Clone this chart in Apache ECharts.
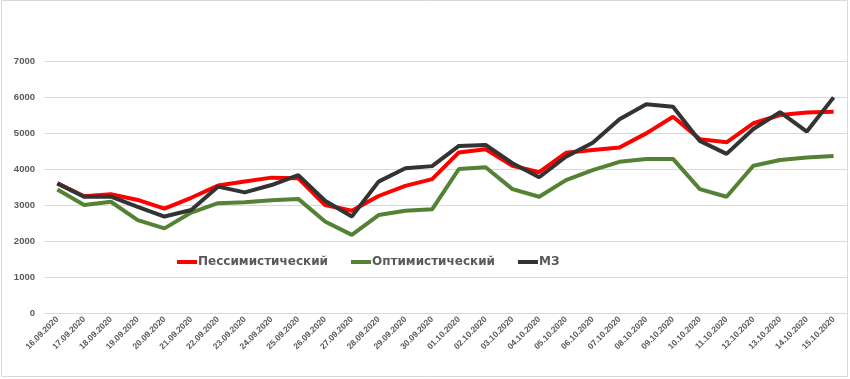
<!DOCTYPE html>
<html>
<head>
<meta charset="utf-8">
<script src="https://cdn.jsdelivr.net/npm/echarts@6/dist/echarts.min.js"></script>
<style>
html,body{margin:0;padding:0;background:#fff;}
#c{width:850px;height:379px;}
</style>
</head>
<body>
<div id="c"></div>
<script>
const categories = ["16.09.2020","17.09.2020","18.09.2020","19.09.2020","20.09.2020","21.09.2020","22.09.2020","23.09.2020","24.09.2020","25.09.2020","26.09.2020","27.09.2020","28.09.2020","29.09.2020","30.09.2020","01.10.2020","02.10.2020","03.10.2020","04.10.2020","05.10.2020","06.10.2020","07.10.2020","08.10.2020","09.10.2020","10.10.2020","11.10.2020","12.10.2020","13.10.2020","14.10.2020","15.10.2020"];
const pessimistic = [3600,3240,3300,3140,2900,3200,3540,3650,3760,3740,3000,2840,3250,3530,3720,4460,4550,4090,3910,4450,4530,4600,4990,5450,4830,4740,5270,5500,5570,5590];
const optimistic = [3430,3000,3090,2580,2350,2790,3050,3075,3130,3170,2540,2170,2720,2840,2880,4000,4050,3440,3230,3690,3970,4200,4280,4280,3440,3230,4090,4250,4320,4360];
const mz = [3600,3230,3230,2950,2680,2860,3510,3350,3555,3830,3120,2680,3650,4020,4080,4640,4670,4160,3770,4340,4730,5380,5800,5730,4780,4420,5110,5580,5040,5990];
const seriesNames = ["Пессимистический","Оптимистический","МЗ"];
const yTicks = {min:0, max:7000, interval:1000};

const chart = echarts.init(document.getElementById('c'));
const colors = ['#ff0000','#548235','#333333'];
const lab = {fontFamily:'Liberation Sans, Arial, sans-serif', fontWeight:'bold', color:'#595959'};
chart.setOption({
  animation:false,
  backgroundColor:'#fff',
  color:colors,
  graphic:[{type:'rect', shape:{x:1.5,y:0.5,width:846,height:376}, style:{fill:'none', stroke:'#d9d9d9', lineWidth:1}, silent:true}],
  legend:{
    data:seriesNames, left:172, top:251, itemWidth:20, itemHeight:4, itemGap:23,
    icon:'rect',
    textStyle:{fontFamily:'DejaVu Sans, sans-serif', fontWeight:'bold', color:'#595959', fontSize:12, padding:[0,0,0,-4]}
  },
  grid:{left:44, right:3, top:61, bottom:66},
  xAxis:{
    type:'category', data:categories, boundaryGap:true,
    axisLine:{show:false}, axisTick:{show:false},
    axisLabel:Object.assign({rotate:45, fontSize:8.5, interval:0, margin:5}, lab)
  },
  yAxis:{
    type:'value', min:yTicks.min, max:yTicks.max, interval:yTicks.interval,
    axisLine:{show:false}, axisTick:{show:false},
    splitLine:{lineStyle:{color:'#d9d9d9', width:1}},
    axisLabel:Object.assign({fontSize:9.5, margin:9, formatter:function(v){return String(v);}}, lab)
  },
  series:[
    {name:seriesNames[0], type:'line', data:pessimistic, symbol:'none', lineStyle:{width:4, color:colors[0]}, itemStyle:{color:colors[0]}},
    {name:seriesNames[1], type:'line', data:optimistic, symbol:'none', lineStyle:{width:4, color:colors[1]}, itemStyle:{color:colors[1]}},
    {name:seriesNames[2], type:'line', data:mz, symbol:'none', lineStyle:{width:4, color:colors[2]}, itemStyle:{color:colors[2]}}
  ]
});
</script>
</body>
</html>
